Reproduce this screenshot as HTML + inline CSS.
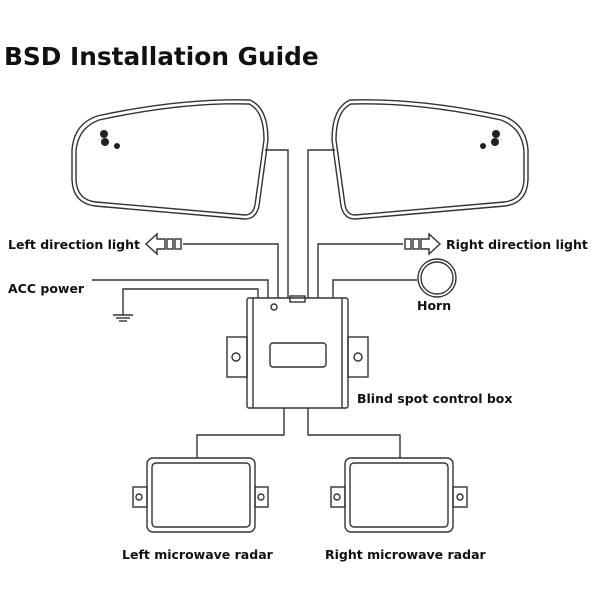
<!DOCTYPE html>
<html><head><style>body{margin:0;background:#fff}svg{display:block}text{font-family:"DejaVu Sans","Liberation Sans",sans-serif;font-weight:bold;fill:#111}</style></head>
<body>
<svg width="600" height="600" viewBox="0 0 600 600">
<text x="4" y="65" font-size="24.8">BSD Installation Guide</text>
<g fill="none" stroke="#333" stroke-width="1.4">
<path d="M97,116 Q74,124 72,150 L72,180 Q73,203 95,206 L245,219 Q256,219 259,206 L268,140 Q268,108 250,100 Q180,98 97,116 Z"/>
<path d="M99,120 Q78,128 76,151 L76,180 Q77,200 96,202 L245,215 Q253,215 255,205 L264,140 Q264,111 249,104 Q182,102 99,120 Z"/>
<g transform="translate(600,0) scale(-1,1)">
<path d="M97,116 Q74,124 72,150 L72,180 Q73,203 95,206 L245,219 Q256,219 259,206 L268,140 Q268,108 250,100 Q180,98 97,116 Z"/>
<path d="M99,120 Q78,128 76,151 L76,180 Q77,200 96,202 L245,215 Q253,215 255,205 L264,140 Q264,111 249,104 Q182,102 99,120 Z"/>
</g>
<polyline points="265,150 288,150 288,298"/>
<polyline points="335,150 308,150 308,298"/>
<polyline points="183,244 278,244 278,298"/>
<polyline points="403,244 318,244 318,298"/>
<polyline points="92,280 268,280 268,298"/>
<polyline points="123,315 123,289 258,289 258,298"/>
<polyline points="417,280 333,280 333,298"/>
<line x1="113" y1="315" x2="133" y2="315"/><line x1="116" y1="318" x2="130" y2="318"/><line x1="119" y1="321" x2="127" y2="321"/>
<circle cx="437" cy="278" r="19"/><circle cx="437" cy="278" r="16"/>
<path d="M146,244 L157,234 L157,239 L165,239 L165,249 L157,249 L157,254 Z"/>
<rect x="167" y="239" width="6" height="10"/><rect x="175" y="239" width="6" height="10"/>
<path d="M440,244 L429,234 L429,239 L421,239 L421,249 L429,249 L429,254 Z"/>
<rect x="413" y="239" width="6" height="10"/><rect x="405" y="239" width="6" height="10"/>
<rect x="247" y="298" width="101" height="110" rx="2"/>
<line x1="253" y1="298" x2="253" y2="408"/><line x1="342" y1="298" x2="342" y2="408"/>
<rect x="290" y="296" width="15" height="6"/>
<circle cx="274" cy="307" r="3"/>
<rect x="270" y="343" width="56" height="24" rx="3"/>
<rect x="227" y="337" width="20" height="40"/><circle cx="236" cy="357" r="4"/>
<rect x="348" y="337" width="20" height="40"/><circle cx="358" cy="357" r="4"/>
<polyline points="284,408 284,435 197,435 197,458"/>
<polyline points="308,408 308,435 400,435 400,458"/>
<rect x="147" y="458" width="108" height="74" rx="6"/><rect x="152" y="463" width="98" height="64" rx="4"/>
<rect x="133" y="487" width="14" height="20"/><circle cx="139" cy="497" r="3"/>
<rect x="255" y="487" width="13" height="20"/><circle cx="261" cy="497" r="3"/>
<rect x="345" y="458" width="108" height="74" rx="6"/><rect x="350" y="463" width="98" height="64" rx="4"/>
<rect x="331" y="487" width="14" height="20"/><circle cx="337" cy="497" r="3"/>
<rect x="453" y="487" width="14" height="20"/><circle cx="460" cy="497" r="3"/>
</g>
<g fill="#222"><circle cx="104" cy="134" r="4"/><circle cx="105" cy="142" r="4"/><circle cx="117" cy="146" r="3"/>
<circle cx="496" cy="134" r="4"/><circle cx="495" cy="142" r="4"/><circle cx="483" cy="146" r="3"/></g>
<text x="8" y="249" font-size="12.5">Left direction light</text>
<text x="446" y="249" font-size="12.5">Right direction light</text>
<text x="8" y="293" font-size="12.5">ACC power</text>
<text x="417" y="310" font-size="12.5">Horn</text>
<text x="357" y="403" font-size="12.5">Blind spot control box</text>
<text x="122" y="559" font-size="12.5">Left microwave radar</text>
<text x="325" y="559" font-size="12.5">Right microwave radar</text>
</svg>
</body></html>
